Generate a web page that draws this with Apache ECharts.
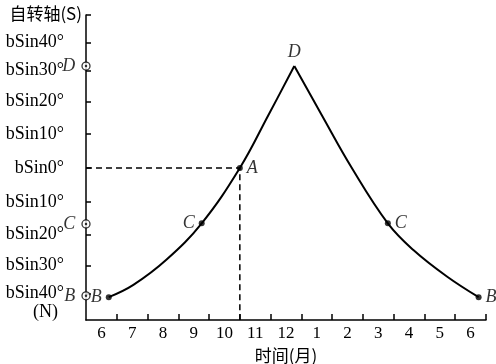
<!DOCTYPE html>
<html><head><meta charset="utf-8">
<script src="https://cdn.jsdelivr.net/npm/echarts@6/dist/echarts.min.js"></script>
<style>html,body{margin:0;padding:0;background:#fff}#c{width:496px;height:364px}</style>
</head><body><div id="c"></div>
<script>
// ---- data ----
var monthLabels = ['6','7','8','9','10','11','12','1','2','3','4','5','6'];
var yTickValues = [0.643, 0.5, 0.342, 0.174, 0, -0.174, -0.342, -0.5, -0.643];
var yTickLabels = ['bSin40°','bSin30°','bSin20°','bSin10°','bSin0°','bSin10°','bSin20°','bSin30°','bSin40°'];
var leftX  = [0.74, 1.54, 2.62, 3.76, 5.0, 5.93, 6.77];
var leftY  = [-0.663, -0.6, -0.47, -0.284, 0.0, 0.272, 0.523];
var rightX = [6.77, 7.66, 8.64, 9.81, 10.64, 11.73, 12.76];
var rightY = [0.523, 0.272, 0.0, -0.284, -0.421, -0.557, -0.663];
var markNames = ['B','C','A','C','B'];
var markX = [0.74, 3.76, 5.0, 9.81, 12.76];
var markY = [-0.663, -0.284, 0.0, -0.284, -0.663];
var peakName = 'D', peakX = 6.77, peakY = 0.523;
var axisMarkNames = ['D','C','B'];
var axisMarkY = [0.523, -0.287, -0.656];
var yMin = -0.78, yMax = 0.785;

var FONT = '"Liberation Serif","Times New Roman",serif';
var CJK = '"Noto Sans CJK SC","Liberation Serif",serif';
function zip(xs, ys){ return xs.map(function(x,i){return [x, ys[i]];}); }

var markPos = ['left','left','right','right','right'];
var markData = markX.map(function(x,i){
  return {value:[x, markY[i]], name: markNames[i],
    label:{show:true, position: markPos[i], formatter: markNames[i], distance: 4}};
});
var axisMarkData = axisMarkY.map(function(y,i){
  return {value:[0, y], name: axisMarkNames[i],
    label:{show:true, position:'left', formatter: axisMarkNames[i], distance: 6}};
});

var chart = echarts.init(document.getElementById('c'));
chart.setOption({
  animation:false,
  backgroundColor:'#fff',
  grid:{left:86, right:10, top:15, bottom:44, containLabel:false, outerBoundsMode:'none'},
  xAxis:{
    type:'value', min:0, max:13,
    name:'时间(月)', nameLocation:'middle', nameGap:26,
    nameTextStyle:{fontFamily:CJK, fontSize:17, color:'#000'},
    axisLine:{onZero:false, lineStyle:{color:'#000', width:1.5}},
    axisTick:{inside:true, length:6, lineStyle:{color:'#000', width:1.5},
      customValues:[1,2,3,4,5,6,7,8,9,10,11,12,13]},
    axisLabel:{customValues:[0.5,1.5,2.5,3.5,4.5,5.5,6.5,7.5,8.5,9.5,10.5,11.5,12.5],
      formatter:function(v){return monthLabels[Math.floor(v)];},
      fontFamily:FONT, fontSize:17, color:'#000', margin:5},
    splitLine:{show:false}
  },
  yAxis:{
    type:'value', min:yMin, max:yMax,
    name:'自转轴(S)', nameLocation:'end', nameGap:1,
    nameTextStyle:{fontFamily:CJK, fontSize:17, color:'#000', align:'right', verticalAlign:'middle', padding:[0,4,0,0]},
    axisLine:{onZero:false, lineStyle:{color:'#000', width:1.5}},
    axisTick:{inside:true, length:5, lineStyle:{color:'#000', width:1.5},
      customValues:[yMax].concat(yTickValues)},
    axisLabel:{customValues:yTickValues,
      formatter:function(v){ var i=yTickValues.indexOf(v); return i>=0?yTickLabels[i]:''; },
      fontFamily:FONT, fontSize:18, color:'#000', margin:22},
    splitLine:{show:false}
  },
  graphic:[{type:'text', left:33, top:303, style:{text:'(N)', font:'18px '+FONT, fill:'#000'}}],
  series:[
    {type:'line', data: zip(leftX,leftY), smooth:0.4, symbol:'none', lineStyle:{color:'#000', width:2}},
    {type:'line', data: zip(rightX,rightY), smooth:0.4, symbol:'none', lineStyle:{color:'#000', width:2}},
    {type:'line', data:[[0, markY[2]],[markX[2], markY[2]],[markX[2], yMin]], symbol:'none',
      lineStyle:{color:'#000', width:1.5, type:[6,4]}},
    {type:'scatter', data: markData, symbol:'circle', symbolSize:6, itemStyle:{color:'#000'},
      label:{fontFamily:FONT, fontStyle:'italic', fontSize:18, color:'#000'}, z:4},
    {type:'scatter', data:[{value:[peakX,peakY], label:{show:true, position:'top', formatter:peakName, distance:4}}],
      symbol:'circle', symbolSize:1, itemStyle:{color:'rgba(0,0,0,0)'},
      label:{fontFamily:FONT, fontStyle:'italic', fontSize:18, color:'#000'}},
    {type:'scatter', data: axisMarkData, symbol:'circle', symbolSize:8,
      itemStyle:{color:'#fff', borderColor:'#000', borderWidth:1.3},
      label:{fontFamily:FONT, fontStyle:'italic', fontSize:18, color:'#000'}, z:5},
    {type:'scatter', data: axisMarkY.map(function(y){return [0,y];}), symbol:'circle', symbolSize:2.5,
      itemStyle:{color:'#000'}, z:6}
  ]
});
</script></body></html>
